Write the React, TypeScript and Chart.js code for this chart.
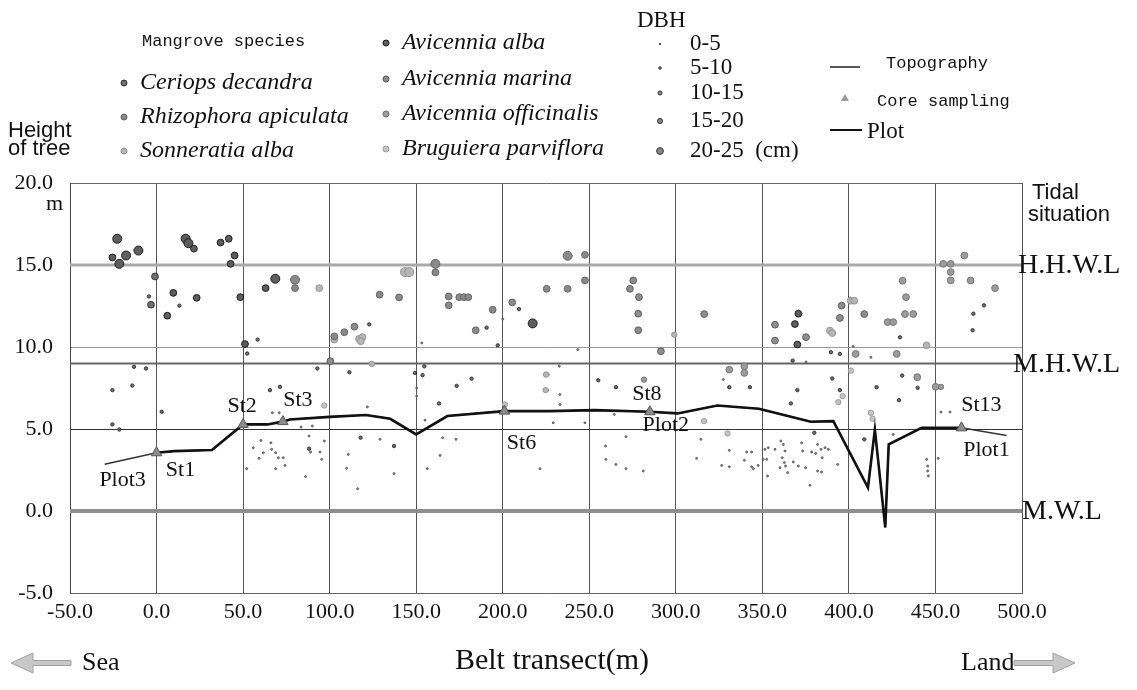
import React, { useEffect, useRef } from "react";
import { Chart, registerables } from "chart.js";
Chart.register(...registerables);

// ---------- data ----------
const X_MIN = -50;
const X_MAX = 500;
const X_STEP = 50;
const Y_MIN = -5;
const Y_MAX = 20;
const Y_STEP = 5;

const TIDE_NAMES = ["H.H.W.L", "M.H.W.L", "M.W.L"];
const TIDE_LEVELS = [15, 9, 0];

// topography along the belt transect (m)
const TOPO_X = [-30, 0, 10, 32, 50, 64, 73, 77, 100, 121, 135, 150, 168, 201, 227, 253, 285, 301, 324, 348, 378, 391, 411, 415, 421, 423, 442, 465, 491];
const TOPO_Y = [2.85, 3.55, 3.65, 3.72, 5.28, 5.28, 5.45, 5.58, 5.74, 5.85, 5.62, 4.67, 5.79, 6.09, 6.09, 6.15, 6.05, 5.95, 6.43, 6.23, 5.44, 5.48, 1.43, 4.97, -1.0, 4.06, 5.07, 5.07, 4.61];
const PLOT_START = 0;
const PLOT_END = 465;

// core sampling stations
const CORE_X = [0, 50, 73, 201, 285, 465];
const CORE_Y = [3.55, 5.28, 5.45, 6.09, 6.05, 5.07];

// station / plot labels (anchored on the transect)
const STATION_NAMES = ["Plot3", "St1", "St2", "St3", "St6", "St8", "Plot2", "St13", "Plot1"];
const STATION_X = [-30, 0, 50, 73, 201, 285, 285, 465, 465];
const STATION_Y = [2.85, 3.55, 5.28, 5.45, 6.09, 6.05, 6.05, 5.07, 5.07];

// DBH classes
const DBH_LABELS = ["0-5", "5-10", "10-15", "15-20", "20-25  (cm)"];

// trees: [distance (m), height (m), DBH class index]
const ceriopsDecandra = [
  [-0.9, 14.3, 3], [-3.2, 12.58, 3],
  [-4.4, 13.08, 1], [13.2, 12.52, 1], [58.4, 10.45, 1], [52.4, 9.6, 1], [122.9, 11.38, 1], [190.7, 11.18, 1],
  [197.1, 10.1, 1], [209.4, 12.31, 1], [-13, 8.79, 1], [-6.1, 8.69, 1], [-25.5, 7.37, 1], [-14, 7.65, 1],
  [-25.5, 5.28, 1], [-21.5, 4.97, 1], [3, 6.05, 1], [65.5, 7.37, 1], [71.3, 7.57, 1], [111.4, 8.46, 1],
  [173.4, 7.63, 1], [182, 8.07, 1], [153.7, 8.28, 1], [255.2, 7.97, 1], [265.4, 7.55, 1], [342.8, 7.55, 1],
  [330.9, 7.55, 1], [370.2, 7.37, 1], [390.4, 8.08, 1], [394.8, 7.37, 1], [416, 7.55, 1], [430.8, 8.26, 1],
  [429.5, 10.59, 1], [367.5, 9.17, 1], [389.6, 9.68, 1], [394.8, 9.58, 1], [478, 12.54, 1], [471.9, 12.03, 1],
  [471.5, 11.02, 1], [117.9, 4.47, 1], [137.2, 3.96, 1], [88.1, 3.8, 1], [163.2, 6.56, 1], [92.9, 8.69, 1],
  [428.9, 6.76, 1], [366.5, 6.56, 1], [439.7, 7.51, 1], [408.9, 4.37, 1], [380, 4.77, 1], [149.3, 8.42, 1],
  [154.7, 8.82, 1],
];
const rhizophoraApiculata = [
  [80, 14.1, 4], [80, 13.59, 3], [128.9, 13.19, 3], [140.1, 13.02, 3], [161.1, 15.07, 4], [161.1, 14.55, 3],
  [168.8, 13.08, 3], [168.8, 12.54, 3], [174.9, 13.04, 3], [177.6, 13.04, 3], [180.1, 13.04, 3], [194.2, 12.27, 3],
  [184.4, 11.02, 3], [205.5, 12.72, 3], [225.4, 13.55, 3], [237.5, 15.56, 4], [247.5, 15.62, 3], [247.5, 14.06, 3],
  [237.5, 13.55, 3], [114.3, 11.24, 3], [108.5, 10.9, 3], [102.7, 10.65, 3],
];
const sonneratiaAlba = [
  [143.5, 14.57, 4], [146, 14.57, 4], [94, 13.59, 3], [102.7, 10.45, 3], [117, 10.5, 3], [119, 10.6, 3],
  [118, 10.35, 3], [124.3, 8.97, 2], [299.1, 10.75, 2], [401, 12.82, 3], [403.1, 12.82, 3], [444.9, 10.1, 3],
  [389, 11.0, 3], [390.4, 10.85, 3], [225, 8.32, 2], [224.8, 7.37, 2],
];
const avicenniaAlba = [
  [-22.7, 16.6, 4], [-25.5, 15.46, 3], [-21.5, 15.07, 4], [-17.6, 15.58, 4], [-10.5, 15.88, 4], [16.8, 16.6, 4],
  [18.4, 16.33, 4], [21.6, 16.0, 3], [37.0, 16.37, 3], [41.7, 16.6, 3], [45.1, 15.58, 3], [42.8, 15.07, 3],
  [9.7, 13.3, 3], [23.2, 13.0, 3], [6.2, 11.91, 3], [48.4, 13.04, 3], [68.6, 14.16, 4], [63.0, 13.59, 3],
  [51.1, 10.18, 3], [217.3, 11.44, 4], [370.8, 12.03, 3], [368.8, 11.4, 3], [370.2, 10.15, 3],
];
const avicenniaMarina = [
  [275.4, 14.06, 3], [273.5, 13.55, 3], [278.7, 13.04, 3], [278.3, 12.03, 3], [278.3, 11.02, 3], [291.4, 9.74, 3],
  [316.4, 12.01, 3], [357.3, 11.36, 3], [357.3, 10.39, 3], [375.2, 10.6, 3], [394.8, 11.77, 3], [395.8, 12.52, 3],
  [408.9, 12.01, 3], [100.4, 9.13, 3],
  [60.3, 4.3, 0], [55.9, 3.86, 0], [61.7, 3.55, 0], [66.1, 4.16, 0], [66.5, 3.76, 0], [68.8, 3.55, 0], [70.4, 3.25, 0],
  [73.2, 3.25, 0], [59.2, 3.21, 0], [52.1, 2.58, 0], [68.8, 2.58, 0], [74.2, 2.78, 0], [86.1, 2.1, 0], [88.1, 4.57, 0],
  [89, 3.6, 0], [94.4, 3.6, 0], [96.9, 4.27, 0], [95.4, 3.15, 0], [66.9, 5.99, 0], [70.9, 5.99, 0], [83.5, 5.12, 0],
  [90, 5.18, 0], [129.1, 4.37, 0], [110.8, 3.45, 0], [109.8, 2.6, 0], [137.2, 2.28, 0], [116.2, 1.36, 0],
  [155.1, 5.54, 0], [165.3, 4.47, 0], [173, 4.37, 0], [163.8, 3.39, 0], [156.4, 2.58, 0], [150.3, 7.0, 0],
  [150.3, 7.5, 0], [121.8, 6.35, 0], [153.2, 10.25, 0], [200, 11.7, 0], [221.5, 2.58, 0], [243.3, 9.84, 0],
  [232.7, 8.83, 0], [226, 7.37, 0], [233, 7.1, 0], [233.1, 6.5, 0], [229.2, 5.38, 0], [247.5, 5.38, 0],
  [264.5, 5.89, 0], [259.4, 3.96, 0], [259.6, 3.15, 0], [265.4, 2.84, 0], [271.2, 2.58, 0], [281.2, 2.44, 0],
  [271.2, 4.53, 0], [314.5, 4.37, 0], [312, 3.21, 0], [330.9, 3.7, 0], [326.5, 2.78, 0], [330.9, 2.7, 0],
  [327.4, 8.02, 0], [375.2, 9.09, 0], [412.7, 9.37, 0], [402.5, 10.04, 0], [377.5, 1.57, 0], [393.5, 2.84, 0],
  [340.9, 3.6, 0], [343.8, 3.6, 0], [351.5, 3.76, 0], [353.4, 3.86, 0], [357.3, 3.76, 0], [360.7, 4.27, 0],
  [362.1, 4.06, 0], [363.1, 3.66, 0], [361.5, 3.25, 0], [362.7, 2.95, 0], [363.4, 2.74, 0], [360.2, 2.64, 0],
  [364.6, 2.34, 0], [352.5, 3.15, 0], [350.5, 3.15, 0], [347.6, 2.78, 0], [344.8, 2.58, 0], [353.0, 2.13, 0],
  [367.9, 2.99, 0], [370.8, 2.74, 0], [372.7, 4.16, 0], [373.3, 3.66, 0], [375.0, 2.64, 0], [378.5, 3.6, 0],
  [380.8, 3.51, 0], [381.9, 4.06, 0], [383.9, 3.76, 0], [384.6, 3.25, 0], [386.2, 3.86, 0], [388.1, 3.76, 0],
  [381.9, 2.44, 0], [384.2, 2.38, 0], [339.6, 3.09, 0], [343.8, 2.7, 0], [425.6, 4.67, 0], [453.2, 6.03, 0],
  [458.4, 6.03, 0], [444.9, 3.15, 0], [445.5, 2.74, 0], [445.5, 2.44, 0], [445.9, 2.14, 0], [451.6, 3.21, 0],
];
const avicenniaOfficinalis = [
  [422.4, 11.52, 3], [425.6, 11.52, 3], [431, 14.04, 3], [433, 13.04, 3], [432.4, 12.01, 3], [437.2, 12.01, 3],
  [427.6, 9.58, 3], [403.9, 9.58, 3], [454.5, 15.07, 3], [458.8, 15.07, 3], [458.8, 14.57, 3], [458.8, 14.06, 3],
  [466.7, 15.58, 3], [470.3, 14.06, 3], [484.4, 13.59, 3], [330.9, 8.62, 3], [339.6, 8.82, 3], [339.6, 8.42, 3],
  [439.5, 8.16, 3], [450.1, 7.57, 3], [453.2, 7.57, 2], [281.6, 8.01, 2],
];
const bruguieraParviflora = [
  [96.9, 6.43, 2], [201.3, 6.5, 2], [316.3, 5.48, 2], [329.9, 4.73, 2], [412.7, 5.99, 2], [413.7, 5.62, 2],
  [401.2, 8.56, 2], [396.4, 7.0, 2], [393.9, 6.64, 2], [226, 8.32, 1],
];

const SPECIES_NAMES = [
  "Ceriops decandra", "Rhizophora apiculata", "Sonneratia alba",
  "Avicennia alba", "Avicennia marina", "Avicennia officinalis", "Bruguiera parviflora",
];
const SPECIES_DATA = [
  ceriopsDecandra, rhizophoraApiculata, sonneratiaAlba,
  avicenniaAlba, avicenniaMarina, avicenniaOfficinalis, bruguieraParviflora,
];

// ---------- styles ----------
const SPECIES_FILL = ["#707070", "#8a8a8a", "#b6b6b6", "#5e5e5e", "#8e8e8e", "#9c9c9c", "#c4c4c4"];
const SPECIES_STROKE = ["#2a2a2a", "#5e5e5e", "#8e8e8e", "#141414", "#555555", "#6e6e6e", "#9a9a9a"];
const DBH_RADIUS = [1, 1.7, 2.7, 3.4, 4.5];

const SERIF = '"Liberation Serif", "Times New Roman", serif';
const SANS = '"Liberation Sans", Arial, sans-serif';
const MONO = '"Liberation Mono", "Courier New", monospace';

const STATION_DX = [18, 24, -1, 15, 17, -3, 16, 20, 25];
const STATION_DY = [16, 17, -18, -21, 32, -18, 13, -23, 22];

const TIDE_COLORS = ["#a9a9a9", "#666666", "#8f8f8f"];
const TIDE_WIDTHS = [3.2, 2, 4];
const TIDE_DX = [-4, -9, 0];

function drawArrow(ctx: CanvasRenderingContext2D, tipX: number, tailX: number, y: number) {
  const dir = tailX > tipX ? 1 : -1;
  const headLen = 22 * dir;
  const headHalf = 10;
  const shaftHalf = 2.5;
  ctx.beginPath();
  ctx.moveTo(tipX, y);
  ctx.lineTo(tipX + headLen, y - headHalf);
  ctx.lineTo(tipX + headLen, y - shaftHalf);
  ctx.lineTo(tailX, y - shaftHalf);
  ctx.lineTo(tailX, y + shaftHalf);
  ctx.lineTo(tipX + headLen, y + shaftHalf);
  ctx.lineTo(tipX + headLen, y + headHalf);
  ctx.closePath();
  ctx.fillStyle = "#c8c8c8";
  ctx.fill();
  ctx.strokeStyle = "#a0a0a0";
  ctx.lineWidth = 1;
  ctx.stroke();
}

function legendDot(ctx: CanvasRenderingContext2D, x: number, y: number, r: number, fill: string, stroke: string) {
  ctx.beginPath();
  ctx.arc(x, y, r, 0, Math.PI * 2);
  ctx.fillStyle = fill;
  ctx.fill();
  ctx.lineWidth = 1;
  ctx.strokeStyle = stroke;
  ctx.stroke();
}

const decorPlugin = {
  id: "decor",
  afterDraw(chart: any) {
    const ctx: CanvasRenderingContext2D = chart.ctx;
    const xs = chart.scales.x;
    const ys = chart.scales.y;
    const area = chart.chartArea;
    ctx.save();
    ctx.fillStyle = "#111";

    // station labels
    ctx.font = `22px ${SERIF}`;
    ctx.textAlign = "center";
    ctx.textBaseline = "middle";
    STATION_NAMES.forEach((n, i) => {
      const px = xs.getPixelForValue(STATION_X[i]) + STATION_DX[i];
      const py = ys.getPixelForValue(STATION_Y[i]) + STATION_DY[i];
      ctx.fillText(n, px, py);
    });

    // tidal labels
    ctx.textAlign = "left";
    ctx.font = `28px ${SERIF}`;
    TIDE_NAMES.forEach((n, i) => {
      ctx.fillText(n, area.right + TIDE_DX[i], ys.getPixelForValue(TIDE_LEVELS[i]) + 1);
    });
    ctx.font = `22px ${SANS}`;
    ctx.textBaseline = "alphabetic";
    ctx.fillText("Tidal", area.right + 10, 199);
    ctx.fillText("situation", area.right + 6, 221);

    // y title
    ctx.fillText("Height", 8, 137);
    ctx.fillText("of tree", 8, 155);
    ctx.font = `22px ${SERIF}`;
    ctx.textAlign = "right";
    ctx.fillText("m", 63, 210);

    // x title
    ctx.textAlign = "center";
    ctx.textBaseline = "middle";
    ctx.font = `30px ${SERIF}`;
    ctx.fillText("Belt transect(m)", (area.left + area.right) / 2 + 6, 661);
    ctx.font = `26px ${SERIF}`;
    ctx.textAlign = "left";
    ctx.fillText("Sea", 82, 663);
    ctx.fillText("Land", 961, 663);
    drawArrow(ctx, 11, 71, 663);
    drawArrow(ctx, 1075, 1014, 663);

    // legend: species
    ctx.fillStyle = "#111";
    ctx.font = `17px ${MONO}`;
    ctx.textBaseline = "middle";
    ctx.fillText("Mangrove species", 142, 41);
    const col1Y = [83, 117, 151];
    const col2Y = [43, 79, 114, 149];
    SPECIES_NAMES.forEach((n, i) => {
      const inFirst = i < 3;
      const x = inFirst ? 124 : 386;
      const y = inFirst ? col1Y[i] : col2Y[i - 3];
      legendDot(ctx, x, y, 3, SPECIES_FILL[i], SPECIES_STROKE[i]);
      ctx.fillStyle = "#111";
      ctx.font = `italic 24px ${SERIF}`;
      ctx.fillText(n, x + 16, y);
    });

    // legend: DBH
    ctx.font = `23px ${SERIF}`;
    ctx.fillText("DBH", 637, 21);
    const dbhY = [44, 68, 93, 121, 151];
    DBH_LABELS.forEach((l, i) => {
      legendDot(ctx, 660, dbhY[i], Math.max(0.8, DBH_RADIUS[i] * 0.75), "#888", "#333");
      ctx.fillStyle = "#111";
      ctx.font = `23px ${SERIF}`;
      ctx.fillText(l, 690, dbhY[i]);
    });

    // legend: lines and core sampling
    ctx.strokeStyle = "#222";
    ctx.lineWidth = 1.5;
    ctx.beginPath();
    ctx.moveTo(830, 67);
    ctx.lineTo(860, 67);
    ctx.stroke();
    ctx.font = `17px ${MONO}`;
    ctx.fillText("Topography", 886, 63);
    ctx.beginPath();
    ctx.moveTo(845, 94);
    ctx.lineTo(849, 101);
    ctx.lineTo(841, 101);
    ctx.closePath();
    ctx.fillStyle = "#999";
    ctx.fill();
    ctx.fillStyle = "#111";
    ctx.fillText("Core sampling", 877, 101);
    ctx.strokeStyle = "#111";
    ctx.lineWidth = 2;
    ctx.beginPath();
    ctx.moveTo(830, 130);
    ctx.lineTo(862, 130);
    ctx.stroke();
    ctx.font = `23px ${SERIF}`;
    ctx.fillText("Plot", 867, 132);
    ctx.restore();
  },
};

export default function App() {
  const ref = useRef<HTMLCanvasElement | null>(null);
  useEffect(() => {
    if (!ref.current) return;
    const topo = TOPO_X.map((x, i) => ({ x, y: TOPO_Y[i] }));
    const plot = topo.filter((p) => p.x >= PLOT_START && p.x <= PLOT_END);
    const core = CORE_X.map((x, i) => ({ x, y: CORE_Y[i] }));
    const datasets: any[] = [
      {
        type: "line", label: "Core sampling", data: core, showLine: false,
        pointStyle: "triangle", pointRadius: 6, pointBackgroundColor: "#8c8c8c",
        pointBorderColor: "#555", pointBorderWidth: 1,
      },
      {
        type: "line", label: "Plot", data: plot, borderColor: "#111", borderWidth: 2.6,
        pointRadius: 0, tension: 0, fill: false,
      },
      {
        type: "line", label: "Topography", data: topo, borderColor: "#333", borderWidth: 1.5,
        pointRadius: 0, tension: 0, fill: false,
      },
    ];
    SPECIES_DATA.forEach((arr, s) => {
      datasets.push({
        type: "scatter",
        label: SPECIES_NAMES[s],
        data: arr.map((t) => ({ x: t[0], y: t[1], d: t[2] })),
        pointRadius: (c: any) => DBH_RADIUS[(c.raw && c.raw.d) || 0],
        pointBackgroundColor: SPECIES_FILL[s],
        pointBorderColor: SPECIES_STROKE[s],
        pointBorderWidth: 0.9,
      });
    });
    TIDE_LEVELS.forEach((lv, i) => {
      datasets.push({
        type: "line", label: TIDE_NAMES[i],
        data: [{ x: X_MIN, y: lv }, { x: X_MAX, y: lv }],
        borderColor: TIDE_COLORS[i], borderWidth: TIDE_WIDTHS[i], pointRadius: 0,
      });
    });

    const chart = new Chart(ref.current, {
      type: "scatter",
      data: { datasets },
      options: {
        animation: false,
        responsive: false,
        devicePixelRatio: 1,
        layout: { padding: { left: 0, right: 115, top: 183, bottom: 0 } },
        plugins: { legend: { display: false }, tooltip: { enabled: false } },
        scales: {
          x: {
            type: "linear", min: X_MIN, max: X_MAX,
            ticks: {
              stepSize: X_STEP, padding: 6, color: "#111",
              font: { family: SERIF, size: 22 },
              callback: (v: any) => Number(v).toFixed(1),
              maxRotation: 0, autoSkip: false,
            },
            grid: { color: "#555", lineWidth: 1, drawTicks: false },
            border: { display: true, color: "#666", width: 1 },
            afterFit: (s: any) => { s.height = 97; },
          },
          y: {
            type: "linear", min: Y_MIN, max: Y_MAX,
            ticks: {
              stepSize: Y_STEP, padding: 17, color: "#111",
              font: { family: SERIF, size: 22 },
              callback: (v: any) => Number(v).toFixed(1),
            },
            grid: {
              drawTicks: false,
              color: (c: any) => {
                const v = c.tick && c.tick.value;
                if (v === 0 || v === 15) return "rgba(0,0,0,0)";
                if (v === 5) return "#333";
                if (v === 10) return "#999";
                return "#666";
              },
              lineWidth: 1,
            },
            border: { display: true, color: "#444", width: 1 },
            afterFit: (s: any) => { s.width = 70; },
          },
        },
      },
      plugins: [decorPlugin],
    } as any);
    return () => chart.destroy();
  }, []);

  return (
    <div style={{ position: "fixed", left: 0, top: 0, width: 1137, height: 690, background: "#fff" }}>
      <canvas ref={ref} width={1137} height={690} style={{ width: 1137, height: 690, display: "block" }} />
    </div>
  );
}
